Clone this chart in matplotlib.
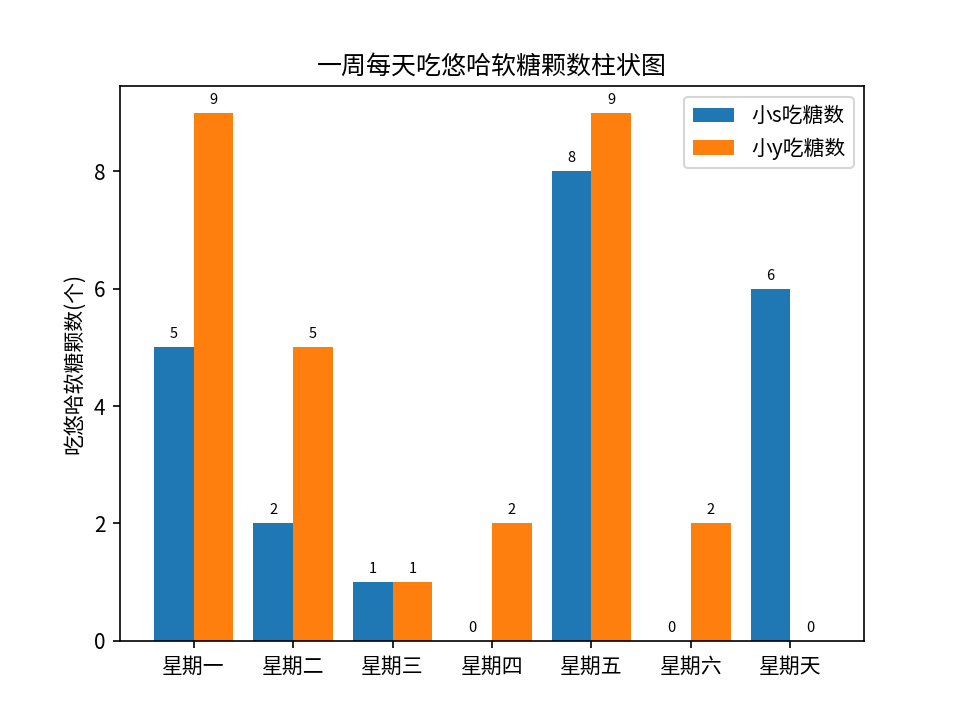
import matplotlib.pyplot as plt
import numpy as np

plt.rcParams['font.family'] = ['Noto Sans CJK SC', 'DejaVu Sans']
plt.rcParams['axes.unicode_minus'] = False

days = ['星期一', '星期二', '星期三', '星期四', '星期五', '星期六', '星期天']
s_counts = [5, 2, 1, 0, 8, 0, 6]
y_counts = [9, 5, 1, 2, 9, 2, 0]

x = np.arange(len(days))
width = 0.4

fig, ax = plt.subplots(figsize=(6.4, 4.8), dpi=150)
bars_s = ax.bar(x - width / 2, s_counts, width, label='小s吃糖数')
bars_y = ax.bar(x + width / 2, y_counts, width, label='小y吃糖数')

# value labels above each bar
ax.bar_label(bars_s, padding=3, fontsize=7)
ax.bar_label(bars_y, padding=3, fontsize=7)

ax.set_xticks(x)
ax.set_xticklabels(days)
ax.set_ylabel('吃悠哈软糖颗数(个)')
ax.set_title('一周每天吃悠哈软糖颗数柱状图')
ax.legend(loc='upper right')

fig.savefig('out.png', dpi=150)
